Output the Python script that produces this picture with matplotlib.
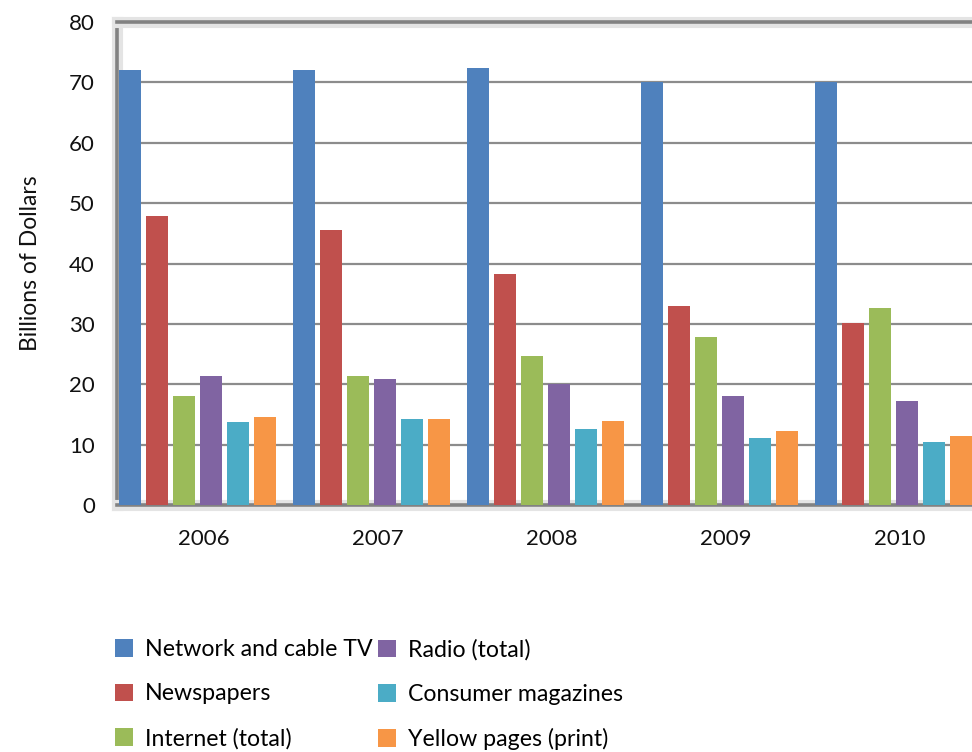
import matplotlib
matplotlib.use("Agg")
import matplotlib.pyplot as plt
import matplotlib.patheffects as pe
import numpy as np

plt.rcParams['font.family'] = ['Lato', 'DejaVu Sans']

years = ['2006', '2007', '2008', '2009', '2010']
series_names = ['Network and cable TV', 'Newspapers', 'Internet (total)',
                'Radio (total)', 'Consumer magazines', 'Yellow pages (print)']
tv = [72.0, 72.1, 72.3, 70.0, 70.0]
newspapers = [47.9, 45.6, 38.3, 32.9, 30.1]
internet = [18.1, 21.4, 24.6, 27.9, 32.6]
radio = [21.3, 20.9, 20.1, 18.1, 17.2]
magazines = [13.7, 14.3, 12.6, 11.1, 10.5]
yellow = [14.5, 14.3, 13.9, 12.2, 11.5]
colors = ['#4F81BD', '#C0504D', '#9BBB59', '#8064A2', '#4BACC6', '#F79646']

all_series = [tv, newspapers, internet, radio, magazines, yellow]

fig = plt.figure(figsize=(9.72, 7.52), dpi=100)
ax = fig.add_axes([117/972, 1 - 505/752, 870/972, 483/752])

x = np.arange(len(years))
pitch = 0.155
width = 0.126
handles = []
for i, (vals, c, name) in enumerate(zip(all_series, colors, series_names)):
    b = ax.bar(x - 0.4255 + i * pitch, vals, width, color=c, label=name, zorder=3)
    handles.append(b)

ax.set_xlim(-0.5, 4.5)
ax.set_ylim(0, 80)
ax.set_yticks(range(0, 81, 10))
ax.set_xticks(x)
ax.set_xticklabels(years)
ax.tick_params(length=0, labelsize=16, colors='#111111')
ax.tick_params(axis='y', pad=16)
ax.tick_params(axis='x', pad=17)

for y in range(10, 80, 10):
    ax.axhline(y, color='#8c8c8c', lw=1.6, zorder=1)

# grey frame with a soft shadow, right side is cut off in the original
shadow = [pe.Stroke(linewidth=8, foreground='#e4e4e4'), pe.Normal()]
for s in ['left', 'top', 'bottom']:
    ax.spines[s].set_color('#828282')
    ax.spines[s].set_linewidth(2.6)
    ax.spines[s].set_path_effects(shadow)
ax.spines['right'].set_visible(False)

ax.set_ylabel('Billions of Dollars', fontsize=16.5, labelpad=20, color='#111111')

leg_kw = dict(loc='upper left', frameon=False, fontsize=16.7,
              handlelength=0.78, handleheight=0.78, handletextpad=0.48,
              labelspacing=1.0, borderaxespad=0)
fig.legend(handles[:3], series_names[:3],
           bbox_to_anchor=(106/972, 1 - 630/752), **leg_kw)
fig.legend(handles[3:], series_names[3:],
           bbox_to_anchor=(369/972, 1 - 630/752), **leg_kw)

fig.savefig('out.png', dpi=100)
